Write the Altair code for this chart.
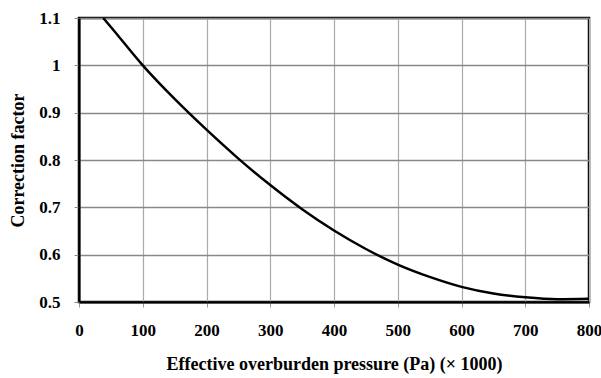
import altair as alt
import pandas as pd

pressure = [38, 50, 100, 150, 200, 250, 300, 350, 400, 450, 500, 550, 600, 650, 700, 750, 800]
factor = [1.10, 1.081, 1.000, 0.929, 0.864, 0.803, 0.747, 0.696, 0.651, 0.612, 0.579, 0.553, 0.532, 0.518, 0.510, 0.506, 0.507]
x_ticks = [0, 100, 200, 300, 400, 500, 600, 700, 800]
y_ticks = [0.5, 0.6, 0.7, 0.8, 0.9, 1.0, 1.1]

df = pd.DataFrame({"p": pressure, "f": factor})

font = "Liberation Serif"

chart = alt.Chart(df).mark_line(color="black", strokeWidth=2.5, interpolate="monotone", clip=True).encode(
    x=alt.X("p:Q", scale=alt.Scale(domain=[0, 800], nice=False, zero=False),
            axis=alt.Axis(values=x_ticks, title="Effective overburden pressure (Pa) (× 1000)",
                          format="d", tickSize=5, labelPadding=15, titlePadding=17, labelFlush=False,
                          gridColor="#aaaaaa", gridWidth=1.2, domainColor="black", domainWidth=2,
                          tickColor="#999999")),
    y=alt.Y("f:Q", scale=alt.Scale(domain=[0.5, 1.1], nice=False, zero=False),
            axis=alt.Axis(values=y_ticks, title="Correction factor", labelExpr="format(datum.value, '~g')",
                          tickSize=5, labelPadding=14, titlePadding=11, labelFlush=False,
                          gridColor="#888888", gridWidth=1.6, domainColor="black", domainWidth=2,
                          tickColor="#888888")),
).properties(
    width=510, height=284,
    autosize=alt.AutoSizeParams(type="none"),
    padding={"left": 79, "top": 18, "right": 12, "bottom": 76},
).configure(
    background="white"
).configure_view(
    stroke="black", strokeWidth=2.5
).configure_axis(
    labelFont=font, titleFont=font, labelFontSize=17, titleFontSize=18,
    labelFontWeight="bold", titleFontWeight="bold", labelColor="black", titleColor="black",
    grid=True
)

chart.save("out.html", embed_options={"renderer": "svg", "actions": False})
